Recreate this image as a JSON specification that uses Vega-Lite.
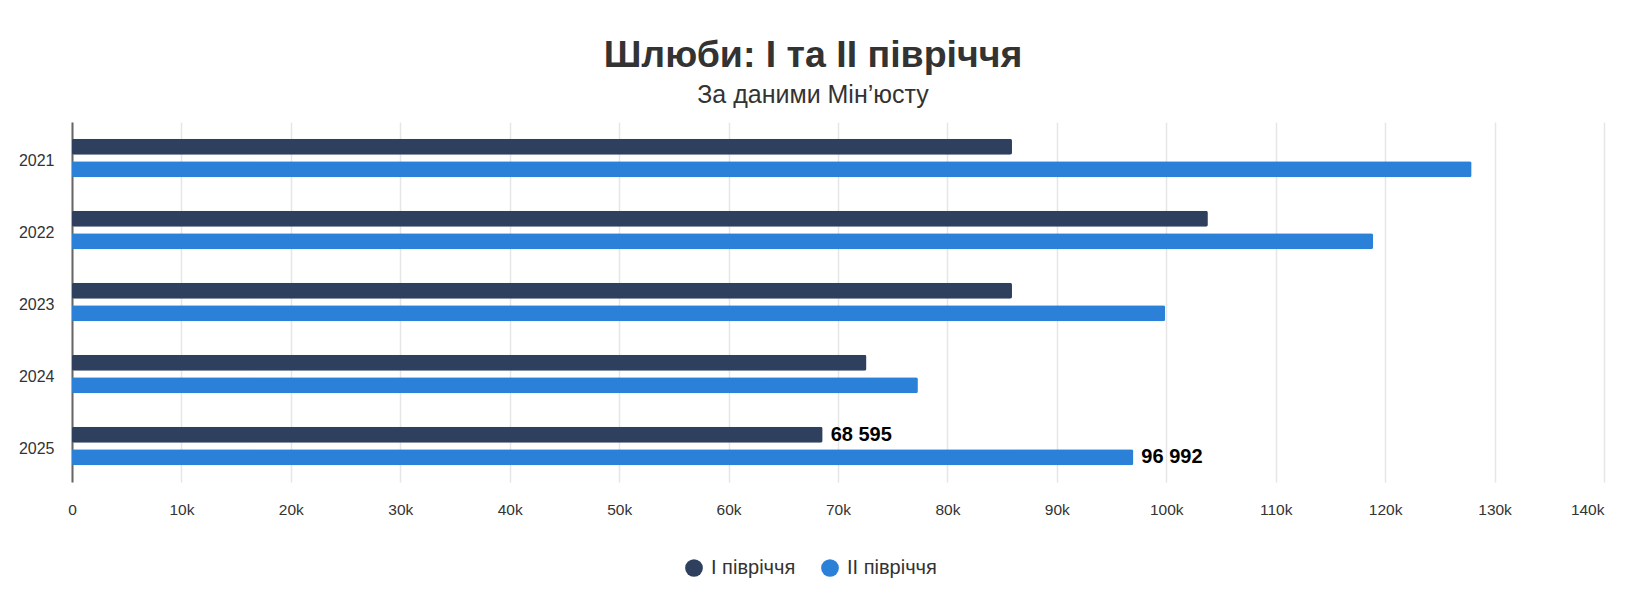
{
  "$schema": "https://vega.github.io/schema/vega-lite/v6.json",
  "autosize": {"type": "none"},
  "width": 1532,
  "height": 360,
  "padding": {"left": 72, "top": 122, "right": 23, "bottom": 115},
  "background": "#ffffff",
  "title": {
    "text": "Шлюби: І та ІІ півріччя",
    "subtitle": "За даними Мін’юсту",
    "anchor": "middle",
    "frame": "group",
    "dx": -25,
    "offset": 14,
    "font": "Liberation Sans",
    "fontSize": 37.5,
    "fontWeight": "bold",
    "color": "#333333",
    "subtitleFont": "Liberation Sans",
    "subtitleFontSize": 25,
    "subtitleColor": "#333333",
    "subtitlePadding": 9
  },
  "config": {
    "view": {"stroke": null},
    "font": "Liberation Sans",
    "locale": {"number": {"decimal": ",", "thousands": " ", "grouping": [3], "currency": ["", ""]}}
  },
  "data": {
    "values": [
      {"year": "2021", "half": "І півріччя", "value": 85900},
      {"year": "2021", "half": "ІІ півріччя", "value": 127900},
      {"year": "2022", "half": "І півріччя", "value": 103800},
      {"year": "2022", "half": "ІІ півріччя", "value": 118900},
      {"year": "2023", "half": "І півріччя", "value": 85900},
      {"year": "2023", "half": "ІІ півріччя", "value": 99900},
      {"year": "2024", "half": "І півріччя", "value": 72600},
      {"year": "2024", "half": "ІІ півріччя", "value": 77300},
      {"year": "2025", "half": "І півріччя", "value": 68595},
      {"year": "2025", "half": "ІІ півріччя", "value": 96992}
    ]
  },
  "encoding": {
    "y": {
      "field": "year",
      "type": "nominal",
      "sort": ["2021", "2022", "2023", "2024", "2025"],
      "scale": {"paddingInner": 0.462, "paddingOuter": 0.231},
      "axis": {
        "title": null,
        "ticks": false,
        "grid": false,
        "domainColor": "#666666",
        "domainWidth": 2,
        "labelFont": "Liberation Sans",
        "labelFontSize": 16,
        "labelColor": "#333333",
        "labelPadding": 18,
        "labelOffset": 3
      }
    },
    "yOffset": {
      "field": "half",
      "type": "nominal",
      "sort": ["І півріччя", "ІІ півріччя"],
      "scale": {"paddingInner": 0.295, "paddingOuter": 0}
    },
    "x": {
      "field": "value",
      "type": "quantitative",
      "scale": {"domain": [0, 140000], "nice": false},
      "axis": {
        "title": null,
        "values": [0, 10000, 20000, 30000, 40000, 50000, 60000, 70000, 80000, 90000, 100000, 110000, 120000, 130000, 140000],
        "labelExpr": "datum.value == 0 ? '0' : (datum.value / 1000) + 'k'",
        "labelAlign": {"condition": {"test": "datum.value == 140000", "value": "right"}, "value": "center"},
        "domain": false,
        "ticks": false,
        "grid": true,
        "gridColor": "#e6e6e6",
        "gridWidth": 1.5,
        "labelFont": "Liberation Sans",
        "labelFontSize": 15.5,
        "labelColor": "#333333",
        "labelPadding": 20
      }
    }
  },
  "layer": [
    {
      "mark": {"type": "bar", "cornerRadius": 2},
      "encoding": {
        "color": {
          "field": "half",
          "type": "nominal",
          "scale": {"domain": ["І півріччя", "ІІ півріччя"], "range": ["#2f405f", "#2b80d8"]},
          "legend": {
            "title": null,
            "orient": "none",
            "direction": "horizontal",
            "legendX": 612,
            "legendY": 436,
            "symbolType": "circle",
            "symbolSize": 314,
            "symbolStrokeWidth": 0,
            "labelFont": "Liberation Sans",
            "labelFontSize": 20,
            "labelColor": "#333333",
            "labelOffset": 7,
            "columnPadding": 24
          }
        }
      }
    },
    {
      "transform": [{"filter": "datum.year == '2025'"}],
      "mark": {
        "type": "text",
        "align": "left",
        "baseline": "middle",
        "dx": 8,
        "font": "Liberation Sans",
        "fontSize": 20,
        "fontWeight": "bold",
        "color": "#000000"
      },
      "encoding": {
        "text": {"field": "value", "type": "quantitative", "format": ",d"}
      }
    }
  ]
}
